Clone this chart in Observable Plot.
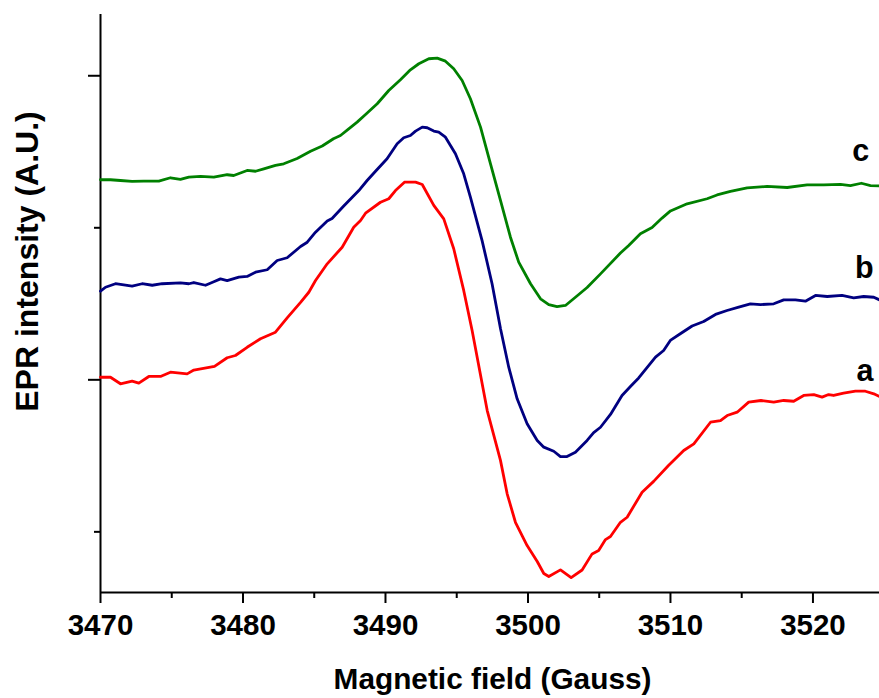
<!DOCTYPE html>
<html>
<head>
<meta charset="utf-8">
<script src="https://cdn.jsdelivr.net/npm/d3@7"></script>
<script src="https://cdn.jsdelivr.net/npm/@observablehq/plot@0.6"></script>
<style>
  html, body { margin: 0; padding: 0; background: #ffffff; }
  #chart svg text { font-weight: bold; }
</style>
</head>
<body>
<div id="chart"></div>
<script>
// ---- Data (magnetic field in Gauss, EPR intensity in arbitrary units) ----
const fieldA = [3470.00,3470.70,3471.40,3472.22,3472.69,3473.39,3474.21,3474.91,3476.08,3476.55,3478.00,3478.89,3479.47,3480.29,3481.23,3482.28,3483.10,3484.04,3484.62,3485.09,3485.91,3486.96,3487.77,3488.25,3488.60,3489.65,3490.23,3490.70,3491.33,3492.11,3492.58,3493.39,3494.09,3494.79,3495.49,3496.08,3497.14,3498.07,3498.54,3499.12,3499.94,3500.65,3501.11,3501.46,3502.28,3503.03,3503.80,3504.50,3504.96,3505.44,3505.79,3506.49,3506.96,3508.01,3508.82,3509.86,3510.93,3511.64,3512.81,3513.51,3513.98,3514.68,3515.49,3516.35,3517.25,3517.95,3518.65,3519.35,3520.06,3520.64,3521.10,3521.45,3522.15,3522.98,3523.68,3524.27,3524.67];
const intensityA = [0.17,0.17,-0.26,-0.09,-0.22,0.22,0.22,0.50,0.39,0.64,0.88,1.45,1.60,2.14,2.70,3.13,4.07,5.09,5.76,6.53,7.63,8.72,10.04,10.48,10.96,11.68,11.91,12.45,13.00,13.00,12.85,11.47,10.59,8.62,5.88,3.24,-2.02,-5.30,-7.50,-9.37,-10.90,-11.95,-12.74,-12.94,-12.50,-13.01,-12.51,-11.45,-11.23,-10.51,-10.31,-9.37,-9.04,-7.39,-6.68,-5.64,-4.65,-4.21,-2.79,-2.68,-2.35,-2.13,-1.47,-1.36,-1.47,-1.36,-1.41,-1.03,-0.97,-1.14,-0.97,-1.03,-0.88,-0.75,-0.75,-0.92,-1.10];

const fieldB = [3470.00,3470.35,3471.05,3472.22,3472.92,3473.63,3474.33,3475.61,3476.20,3476.55,3477.37,3477.95,3478.42,3478.89,3479.71,3480.29,3480.88,3481.70,3482.40,3483.10,3484.04,3484.51,3485.09,3485.91,3486.25,3487.07,3488.13,3488.71,3489.30,3490.11,3490.82,3491.28,3491.75,3492.11,3492.58,3492.93,3493.39,3493.74,3494.21,3494.91,3495.49,3495.96,3496.78,3497.48,3498.07,3498.65,3499.24,3499.94,3500.65,3501.11,3501.81,3502.28,3502.74,3503.33,3504.15,3504.61,3505.09,3505.79,3506.60,3507.19,3507.77,3508.95,3509.52,3509.99,3510.77,3511.52,3512.33,3513.16,3513.97,3514.79,3515.61,3516.32,3517.25,3517.95,3518.77,3519.47,3520.18,3521.00,3522.04,3522.86,3523.56,3524.27,3524.67];
const intensityB = [5.83,6.09,6.32,6.16,6.32,6.22,6.32,6.38,6.32,6.40,6.22,6.45,6.64,6.53,6.75,6.80,7.08,7.24,7.85,8.03,8.77,9.05,9.71,10.45,10.61,11.43,12.45,13.11,13.72,14.54,15.53,15.92,16.07,16.36,16.62,16.58,16.36,16.29,15.96,14.87,13.55,12.01,9.16,6.32,3.38,0.83,-1.25,-2.89,-3.99,-4.43,-4.70,-5.05,-5.05,-4.76,-3.99,-3.47,-3.12,-2.28,-1.03,-0.44,0.12,1.49,1.93,2.59,3.08,3.54,3.84,4.30,4.56,4.78,5.00,4.95,5.00,5.26,5.26,5.17,5.55,5.48,5.55,5.39,5.48,5.43,5.26];

const fieldC = [3470.00,3470.70,3471.40,3472.22,3473.04,3474.09,3474.91,3475.61,3476.20,3477.02,3477.95,3478.89,3479.35,3480.29,3480.88,3481.46,3482.28,3482.86,3483.80,3484.74,3485.56,3486.35,3486.84,3487.42,3488.01,3488.60,3489.42,3490.23,3491.05,3491.75,3492.34,3493.04,3493.63,3494.21,3494.79,3495.38,3495.96,3496.67,3497.37,3498.07,3498.77,3499.35,3500.18,3500.88,3501.46,3502.04,3502.63,3503.33,3504.15,3505.09,3506.49,3507.07,3507.89,3508.71,3509.41,3510.00,3511.17,3512.57,3513.27,3514.21,3515.38,3516.78,3518.19,3519.59,3520.76,3521.93,3522.63,3523.40,3524.04,3524.67];
const intensityC = [13.16,13.16,13.11,13.05,13.07,13.07,13.29,13.18,13.33,13.38,13.33,13.49,13.44,13.77,13.72,13.88,14.10,14.21,14.56,15.04,15.38,15.86,16.07,16.51,16.95,17.45,18.16,19.03,19.74,20.39,20.79,21.12,21.16,20.96,20.46,19.69,18.49,16.62,14.21,11.80,9.38,7.74,6.32,5.33,4.95,4.82,4.89,5.43,6.07,6.97,8.34,8.84,9.61,10.02,10.64,11.11,11.58,11.91,12.16,12.39,12.62,12.72,12.65,12.82,12.82,12.85,12.78,12.93,12.78,12.75];

// Axis ranges and ticks
const xDomain = [3470, 3524.67];
const yDomain = [-13.99, 24.03];
const xMajorTicks = [3470, 3480, 3490, 3500, 3510, 3520];
const xMinorTicks = [3475, 3485, 3495, 3505, 3515];
const yMajorTicks = [0, 20];
const yMinorTicks = [-10, 10];

// Curve labels
const curveLabels = ["a", "b", "c"];
const labelField = [3523.65, 3523.6, 3523.35];
const labelIntensity = [0.59, 7.36, 15.06];

const xTitle = "Magnetic field (Gauss)";
const yTitle = "EPR intensity (A.U.)";

const toRows = (xs, ys) => xs.map((x, i) => ({x, y: ys[i]}));
const labelRows = curveLabels.map((t, i) => ({t, x: labelField[i], y: labelIntensity[i]}));

const chart = Plot.plot({
  width: 879,
  height: 698,
  marginLeft: 100,
  marginRight: 0,
  marginTop: 14,
  marginBottom: 106,
  x: {domain: xDomain, label: null},
  y: {domain: yDomain, label: null},
  style: {fontFamily: "'Liberation Sans', Arial, sans-serif", background: "#ffffff", color: "#000000", overflow: "visible"},
  marks: [
    Plot.ruleX([xDomain[0]], {stroke: "#000", strokeWidth: 2}),
    Plot.ruleY([yDomain[0]], {stroke: "#000", strokeWidth: 2}),
    Plot.axisX(xMajorTicks, {tickSize: 11, tickPadding: 11, strokeWidth: 2, fontSize: 29.5, tickFormat: d3.format("d"), label: null}),
    Plot.axisX(xMinorTicks, {tickSize: 6, strokeWidth: 2, tickFormat: () => "", label: null}),
    Plot.axisY(yMajorTicks, {tickSize: 12, strokeWidth: 2, tickFormat: () => "", label: null}),
    Plot.axisY(yMinorTicks, {tickSize: 6, strokeWidth: 2, tickFormat: () => "", label: null}),
    Plot.line(toRows(fieldA, intensityA), {x: "x", y: "y", stroke: "#ff0000", strokeWidth: 2.8}),
    Plot.line(toRows(fieldB, intensityB), {x: "x", y: "y", stroke: "#000080", strokeWidth: 2.8}),
    Plot.line(toRows(fieldC, intensityC), {x: "x", y: "y", stroke: "#008000", strokeWidth: 2.8}),
    Plot.text(labelRows, {x: "x", y: "y", text: "t", fontSize: 30.5, textAnchor: "middle", lineAnchor: "middle", fill: "#000"}),
    Plot.text([xTitle], {text: d => d, frameAnchor: "bottom", dx: 2.5, dy: 86.7, fontSize: 29.8, textAnchor: "middle", lineAnchor: "middle", fill: "#000"}),
    Plot.text([yTitle], {text: d => d, frameAnchor: "left", rotate: -90, dx: -72.6, dy: -42, fontSize: 32, textAnchor: "middle", lineAnchor: "middle", fill: "#000"})
  ]
});
document.getElementById("chart").appendChild(chart);
</script>
</body>
</html>
